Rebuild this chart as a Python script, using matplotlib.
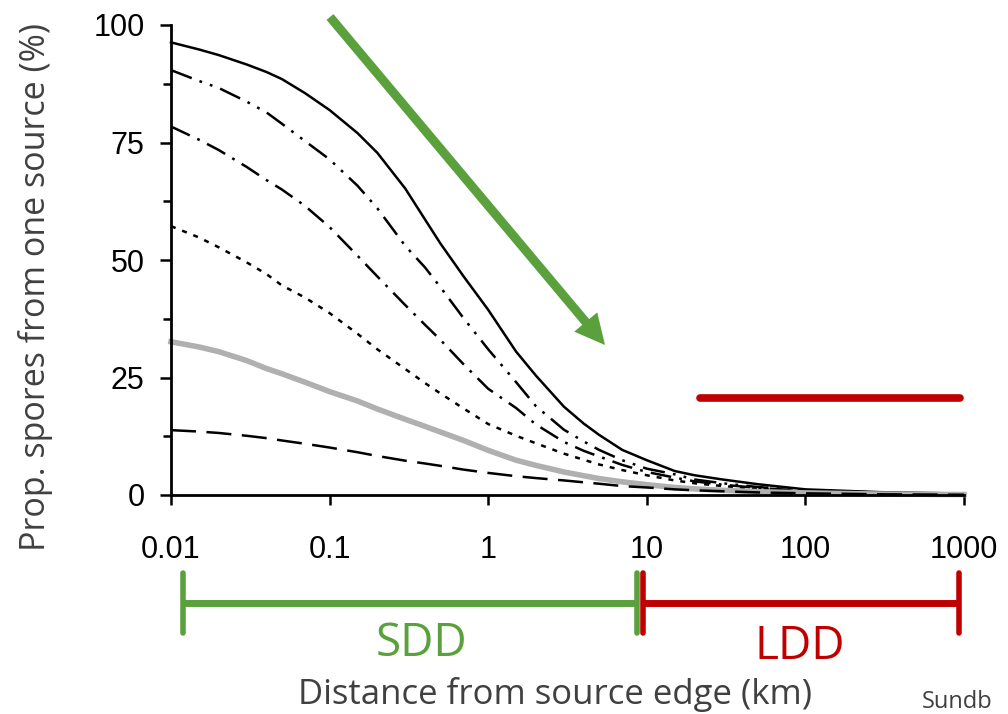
import matplotlib
matplotlib.use("Agg")
import matplotlib.pyplot as plt
from matplotlib.lines import Line2D
from matplotlib.patches import FancyArrow
from matplotlib.ticker import FixedLocator, NullLocator, FixedFormatter
from matplotlib.transforms import IdentityTransform

GREEN = "#5aa03c"
RED = "#c00000"
GREY_TEXT = "#404040"

# distance from source edge (km)
distance = [0.01, 0.015, 0.02, 0.03, 0.04, 0.05, 0.07, 0.1, 0.15, 0.2, 0.3, 0.4,
            0.5, 0.7, 1, 1.5, 2, 3, 4, 5, 7, 10, 15, 20, 30, 50, 100, 300, 1000]

# proportion of spores from one source (%), one array per curve
solid = [96.3, 94.8, 93.6, 91.6, 90.0, 88.5, 85.5, 81.9, 77.0, 72.8, 65.2, 58.6,
         53.5, 46.5, 39.4, 30.5, 25.4, 18.8, 15.2, 12.8, 9.6, 7.4, 5.1, 4.2, 3.3,
         2.3, 1.2, 0.6, 0.3]
dash_dot_dot = [90.4, 88.1, 86.6, 83.7, 81.4, 79.0, 75.3, 71.4, 65.8, 61.0, 53.0,
                48.4, 44.2, 37.6, 31.0, 24.0, 18.9, 13.9, 11.4, 9.6, 7.4, 5.6, 4.4,
                3.3, 2.5, 1.7, 1.0, 0.5, 0.25]
dash_dot = [78.4, 75.6, 73.4, 69.8, 67.0, 65.0, 61.5, 57.0, 50.9, 46.5, 40.4, 36.2,
            33.0, 27.8, 22.6, 18.5, 15.0, 11.3, 9.4, 8.2, 6.4, 4.9, 3.7, 2.9, 2.2,
            1.5, 0.9, 0.45, 0.2]
dotted = [57.2, 54.8, 52.7, 49.5, 47.0, 44.6, 42.0, 38.7, 34.3, 31.0, 26.8, 23.8,
          21.6, 18.4, 15.1, 12.6, 11.0, 8.8, 7.5, 6.5, 5.3, 4.2, 3.1, 2.5, 1.9, 1.3,
          0.8, 0.4, 0.15]
grey = [32.6, 31.5, 30.5, 28.6, 26.9, 25.8, 24.0, 22.0, 20.0, 18.3, 16.1, 14.6,
        13.4, 11.6, 9.5, 7.4, 6.3, 4.9, 4.1, 3.5, 2.8, 2.2, 1.6, 1.3, 1.0, 0.7,
        0.45, 0.2, 0.1]
dashed = [13.8, 13.5, 13.2, 12.6, 12.1, 11.6, 10.9, 10.1, 9.1, 8.3, 7.3, 6.7, 6.2,
          5.4, 4.7, 4.0, 3.6, 3.1, 2.7, 2.4, 1.9, 1.6, 1.2, 1.0, 0.8, 0.55, 0.35,
          0.15, 0.05]

x_ticks = [0.01, 0.1, 1, 10, 100, 1000]
x_labels = ["0.01", "0.1", "1", "10", "100", "1000"]
y_ticks = [0, 25, 50, 75, 100]
y_minor = [12.5, 37.5, 62.5, 87.5]

W, H = 1008, 714
fig = plt.figure(figsize=(W / 100, H / 100), dpi=100)
ax = fig.add_axes([171 / W, 1 - 495 / H, (964 - 171) / W, (495 - 25) / H])

LW = 1.8
ax.plot(distance, solid, color="black", lw=LW, clip_on=False)
ax.plot(distance, dash_dot_dot, color="black", lw=LW, clip_on=False,
        dashes=(8.9, 3.3, 1.1, 3.3, 1.1, 3.3))
ax.plot(distance, dash_dot, color="black", lw=LW, clip_on=False,
        dashes=(8.3, 3.3, 1.1, 3.3))
ax.plot(distance, dotted, color="black", lw=LW, clip_on=False,
        dashes=(2.0, 2.8))
ax.plot(distance, grey, color="#b0b0b0", lw=4, clip_on=False)
ax.plot(distance, dashed, color="black", lw=LW, clip_on=False,
        dashes=(10, 4.2))

ax.set_xscale("log")
ax.set_xlim(0.01, 1000)
ax.set_ylim(0, 100)
ax.xaxis.set_major_locator(FixedLocator(x_ticks))
ax.xaxis.set_major_formatter(FixedFormatter(x_labels))
ax.xaxis.set_minor_locator(NullLocator())
ax.yaxis.set_major_locator(FixedLocator(y_ticks))
ax.yaxis.set_minor_locator(FixedLocator(y_minor))

for side in ("top", "right"):
    ax.spines[side].set_visible(False)
for side in ("left", "bottom"):
    ax.spines[side].set_linewidth(2)

ax.tick_params(axis="x", which="major", length=7, width=1.8, direction="out", pad=22)
ax.tick_params(axis="y", which="major", length=8, width=1.8, direction="out", pad=11)
ax.tick_params(axis="y", which="minor", length=5.5, width=1.8, direction="out")
for lab in ax.get_xticklabels() + ax.get_yticklabels():
    lab.set_fontfamily("Liberation Sans")
    lab.set_fontsize(22)

# overlay drawn in figure pixels (origin bottom-left)
ident = IdentityTransform()

arrow = FancyArrow(330, H - 17, 605 - 330, -(345 - 17), width=9, head_width=30,
                   head_length=30, length_includes_head=True, color=GREEN,
                   transform=ident, lw=0)
fig.add_artist(arrow)

fig.add_artist(Line2D([700, 960], [H - 398, H - 398], color=RED, lw=5.5,
                      solid_capstyle="round", transform=ident))

def bracket(x0, x1, color):
    yc = H - 603
    fig.add_artist(Line2D([x0, x1], [yc, yc], color=color, lw=5,
                          solid_capstyle="butt", transform=ident))
    for xe in (x0, x1):
        fig.add_artist(Line2D([xe, xe], [yc - 30, yc + 30], color=color, lw=4,
                              solid_capstyle="round", transform=ident))

bracket(183, 637, GREEN)
bracket(643, 959, RED)

label_font = "Open Sans"
fig.text(422 / W, 1 - 644 / H, "SDD", color=GREEN, fontsize=33, family=label_font,
         ha="center", va="center")
fig.text(800 / W, 1 - 647 / H, "LDD", color=RED, fontsize=33, family=label_font,
         ha="center", va="center")
fig.text(555 / W, 1 - 694 / H, "Distance from source edge (km)", color=GREY_TEXT,
         fontsize=25, family=label_font, ha="center", va="center")
fig.text(36 / W, 1 - 287 / H, "Prop. spores from one source (%)", color=GREY_TEXT,
         fontsize=24.5, family=label_font, ha="center", va="center", rotation=90)
fig.text(922 / W, 1 - 702 / H, "Sundb", color=GREY_TEXT, fontsize=17,
         family=label_font, ha="left", va="center")

fig.savefig("out.png", dpi=100)
